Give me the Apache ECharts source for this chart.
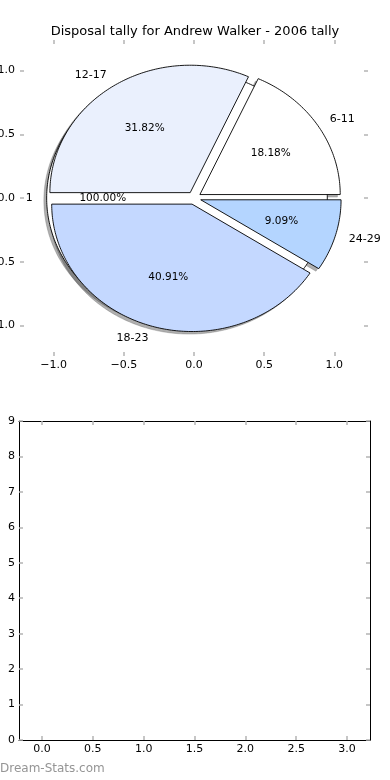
<!DOCTYPE html>
<html><head><meta charset="utf-8">
<script src="https://cdn.jsdelivr.net/npm/echarts@6/dist/echarts.min.js"></script>
<style>html,body{margin:0;padding:0;background:#fff}#c{width:390px;height:780px}</style>
</head><body><div id="c"></div>
<script>
// ---- data ----
const titleText = 'Disposal tally for Andrew Walker - 2006 tally';
const ageGroups = ['6-11', '12-17', '18-23', '24-29'];
const disposals = [4, 7, 9, 2];
const sliceColors = ['#ffffff', '#eaf0fd', '#c4d8ff', '#b4d5ff'];
const totalLabels = ['1'];
const totalValues = [1];
const totalColors = ['#ffffff'];
const pieTicks = [-1.0, -0.5, 0.0, 0.5, 1.0];
const barXTicks = [0, 0.5, 1.0, 1.5, 2.0, 2.5, 3.0];
const barYTicks = [0, 1, 2, 3, 4, 5, 6, 7, 8, 9];
const watermark = 'Dream-Stats.com';

// ---- settings ----
const EXPLODE = 0.05, LABEL_DIST = 1.1, PCT_DIST = 0.6, SHADOW_OFF = -0.02;
const FONT = '"DejaVu Sans", sans-serif';

function buildWedges(values, labels, colors) {
  const total = values.reduce((a, b) => a + b, 0);
  let acc = 0;
  return values.map((v, i) => {
    const t1 = acc / total * 360; acc += v; const t2 = acc / total * 360;
    const mid = (t1 + t2) / 2 * Math.PI / 180;
    return {
      t1, t2, full: (t2 - t1) >= 359.999,
      cx: EXPLODE * Math.cos(mid), cy: EXPLODE * Math.sin(mid),
      mid, label: labels[i], pct: (v / total * 100).toFixed(2) + '%', color: colors[i]
    };
  });
}
const totalWedges = buildWedges(totalValues, totalLabels, totalColors);
const sliceWedges = buildWedges(disposals, ageGroups, sliceColors);

function wedgePts(w, api, dx, dy) {
  const pts = w.full ? [] : [api.coord([w.cx + dx, w.cy + dy])];
  const n = Math.max(4, Math.ceil(w.t2 - w.t1));
  for (let k = 0; k <= n; k++) {
    const t = (w.t1 + (w.t2 - w.t1) * k / n) * Math.PI / 180;
    pts.push(api.coord([w.cx + dx + Math.cos(t), w.cy + dy + Math.sin(t)]));
  }
  return pts;
}
function shadowRender(list) {
  return function (params, api) {
    const w = list[params.dataIndex];
    return { type: 'polygon', shape: { points: wedgePts(w, api, SHADOW_OFF, SHADOW_OFF) },
      style: { fill: 'rgba(77,77,77,0.45)', stroke: 'rgba(77,77,77,0.45)', lineWidth: 0.6 } };
  };
}
function wedgeRender(list) {
  return function (params, api) {
    const w = list[params.dataIndex];
    const lx = w.cx + LABEL_DIST * Math.cos(w.mid), ly = w.cy + LABEL_DIST * Math.sin(w.mid);
    const px = w.cx + PCT_DIST * Math.cos(w.mid), py = w.cy + PCT_DIST * Math.sin(w.mid);
    const lp = api.coord([lx, ly]), pp = api.coord([px, py]);
    return { type: 'group', children: [
      { type: 'polygon', shape: { points: wedgePts(w, api, 0, 0) },
        style: { fill: w.color, stroke: '#000', lineWidth: 0.9 } },
      { type: 'text', x: lp[0], y: lp[1], z2: 10,
        style: { text: w.label, fill: '#000', font: '11px ' + FONT, align: lx > 0 ? 'left' : 'right', verticalAlign: 'middle' } },
      { type: 'text', x: pp[0], y: pp[1], z2: 10,
        style: { text: w.pct, fill: '#000', font: '10.5px ' + FONT, align: 'center', verticalAlign: 'middle' } }
    ] };
  };
}
const minus = v => (v < 0 ? '\u2212' : '') + Math.abs(v).toFixed(1);
const tickStyle = { show: true, inside: true, length: 4, lineStyle: { color: '#b4b4b4', width: 1.5 } };
const labelStyle = { color: '#000', fontFamily: FONT, fontSize: 11 };

function valAxis(o) {
  return Object.assign({ type: 'value', splitLine: { show: false }, axisLine: { onZero: false, show: false } }, o);
}

const option = {
  animation: false,
  backgroundColor: '#fff',
  title: { text: titleText, left: 'center', top: 20, textStyle: { fontFamily: FONT, fontSize: 13, fontWeight: 'normal', color: '#000' } },
  graphic: [{ type: 'text', left: 0, top: 763, style: { text: watermark, fill: '#959595', font: '12px ' + FONT } }],
  grid: [
    { left: 20, top: 40, width: 348, height: 316, containLabel: false, outerBoundsMode: 'none' },
    { left: 19, top: 421, width: 351, height: 319, containLabel: false, outerBoundsMode: 'none' }
  ],
  xAxis: [
    valAxis({ gridIndex: 0, position: 'bottom', min: -1.24, max: 1.24,
      axisTick: Object.assign({ customValues: pieTicks }, tickStyle),
      axisLabel: Object.assign({ customValues: pieTicks, formatter: minus, margin: 4 }, labelStyle) }),
    valAxis({ gridIndex: 0, position: 'top', min: -1.24, max: 1.24,
      axisTick: Object.assign({ customValues: pieTicks }, tickStyle), axisLabel: { show: false } }),
    valAxis({ gridIndex: 1, position: 'bottom', min: -0.225, max: 3.225,
      axisLine: { show: true, onZero: false, lineStyle: { color: '#000', width: 1 } },
      axisTick: Object.assign({ customValues: barXTicks }, tickStyle),
      axisLabel: Object.assign({ customValues: barXTicks, formatter: v => v.toFixed(1), margin: 4 }, labelStyle) }),
    valAxis({ gridIndex: 1, position: 'top', min: -0.225, max: 3.225,
      axisLine: { show: true, onZero: false, lineStyle: { color: '#000', width: 1 } },
      axisTick: Object.assign({ customValues: barXTicks }, tickStyle), axisLabel: { show: false } })
  ],
  yAxis: [
    valAxis({ gridIndex: 0, position: 'left', min: -1.24, max: 1.24,
      axisTick: Object.assign({ customValues: pieTicks }, tickStyle),
      axisLabel: Object.assign({ customValues: pieTicks, formatter: minus, margin: 5 }, labelStyle) }),
    valAxis({ gridIndex: 0, position: 'right', min: -1.24, max: 1.24,
      axisTick: Object.assign({ customValues: pieTicks }, tickStyle), axisLabel: { show: false } }),
    valAxis({ gridIndex: 1, position: 'left', min: 0, max: 9,
      axisLine: { show: true, onZero: false, lineStyle: { color: '#000', width: 1 } },
      axisTick: Object.assign({ customValues: barYTicks }, tickStyle),
      axisLabel: Object.assign({ customValues: barYTicks, margin: 4 }, labelStyle) }),
    valAxis({ gridIndex: 1, position: 'right', min: 0, max: 9,
      axisLine: { show: true, onZero: false, lineStyle: { color: '#000', width: 1 } },
      axisTick: Object.assign({ customValues: barYTicks }, tickStyle), axisLabel: { show: false } })
  ],
  series: [
    { type: 'custom', name: 'total shadow', xAxisIndex: 0, yAxisIndex: 0, z: 1, clip: false, silent: true,
      data: totalWedges.map(w => [w.cx, w.cy]), encode: { x: 0, y: 1 }, renderItem: shadowRender(totalWedges) },
    { type: 'custom', name: 'slice shadow', xAxisIndex: 0, yAxisIndex: 0, z: 1, clip: false, silent: true,
      data: sliceWedges.map(w => [w.cx, w.cy]), encode: { x: 0, y: 1 }, renderItem: shadowRender(sliceWedges) },
    { type: 'custom', name: 'total', xAxisIndex: 0, yAxisIndex: 0, z: 2, clip: false, silent: true,
      data: totalWedges.map(w => [w.cx, w.cy]), encode: { x: 0, y: 1 }, renderItem: wedgeRender(totalWedges) },
    { type: 'custom', name: 'disposals', xAxisIndex: 0, yAxisIndex: 0, z: 3, clip: false, silent: true,
      data: sliceWedges.map(w => [w.cx, w.cy]), encode: { x: 0, y: 1 }, renderItem: wedgeRender(sliceWedges) }
  ]
};
const chart = echarts.init(document.getElementById('c'), null, { renderer: 'canvas' });
chart.setOption(option);
</script>
</body></html>
